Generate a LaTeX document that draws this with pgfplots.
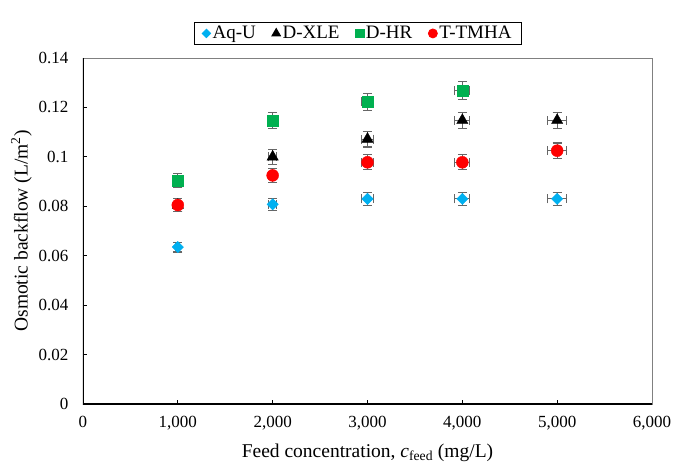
\documentclass[border=0pt]{standalone}
\usepackage{pgfplots}
\pgfplotsset{compat=1.18}
\usepackage{fontspec}
\setmainfont{Liberation Serif}
\definecolor{cAq}{HTML}{00B0F0}
\definecolor{cHR}{HTML}{00B050}
\definecolor{cTM}{HTML}{FF0000}
\definecolor{errc}{HTML}{666666}
\definecolor{boxc}{HTML}{808080}
\begin{document}
\begin{tikzpicture}
\useasboundingbox (-83pt,-60pt) rectangle (592pt,404pt);
\begin{axis}[
  width=569pt, height=346pt, scale only axis,
  xmin=0, xmax=6000, ymin=0, ymax=0.14,
  xtick={0,1000,...,6000},
  ytick={0,0.02,...,0.14},
  /pgf/number format/assume math mode=true,
  /pgf/number format/1000 sep={,},
  yticklabel style={/pgf/number format/fixed, /pgf/number format/precision=2},
  scaled y ticks=false,
  tick label style={font=\fontsize{17}{20}\selectfont},
  label style={font=\fontsize{19.5}{23}\selectfont},
  tick align=inside, tick pos=left,
  major tick length=4pt,
  tick style={black, line width=0.8pt},
  axis line style={boxc, line width=0.8pt},
  xlabel={Feed concentration, \textit{c}\textsubscript{feed} (mg/L)},
  ylabel={Osmotic backflow (L/m\textsuperscript{2})},
  xticklabel style={yshift=-9pt},
  yticklabel style={xshift=-11pt},
  xlabel style={yshift=-7pt},
  ylabel style={yshift=0pt},
  legend columns=4,
  legend style={at={(0.483,1.038)}, anchor=south, draw=black, line width=0.8pt,
    font=\fontsize{19}{22}\selectfont, inner xsep=8pt, inner ysep=2pt,
    /tikz/every even column/.append style={column sep=14pt}},
  legend cell align=left,
  error bars/error bar style={errc, line width=1.1pt},
  error bars/error mark options={rotate=90, mark size=4.5pt, errc, line width=1.1pt},
]
\draw[black, line width=1.4pt] (rel axis cs:0,1) -- (rel axis cs:0,0) -- (rel axis cs:1,0);

\addplot[only marks, mark=square*, mark size=4pt, mark options={rotate=45, cAq, fill=cAq},
  legend image post style={mark size=3pt},
  error bars/.cd, x dir=both, y dir=both, x explicit, y explicit]
coordinates {
  (1000,0.0635) +- (20,0.0020)
  (2000,0.0808) +- (40,0.0025)
  (3000,0.0830) +- (60,0.0025)
  (4000,0.0830) +- (80,0.0025)
  (5000,0.0830) +- (100,0.0025)
};
\addlegendentry{Aq-U}

\addplot[only marks, mark=triangle*, mark size=6.5pt, mark options={black, fill=black},
  legend image post style={mark size=5pt},
  error bars/.cd, x dir=both, y dir=both, x explicit, y explicit]
coordinates {
  (1000,0.0805) +- (20,0.0025)
  (2000,0.1000) +- (40,0.0030)
  (3000,0.1072) +- (60,0.0032)
  (4000,0.1148) +- (80,0.0033)
  (5000,0.1148) +- (100,0.0033)
};
\addlegendentry{D-XLE}

\addplot[only marks, mark=square*, mark size=5.5pt, mark options={cHR, fill=cHR},
  legend image post style={mark size=4.2pt},
  error bars/.cd, x dir=both, y dir=both, x explicit, y explicit]
coordinates {
  (1000,0.0905) +- (20,0.0027)
  (2000,0.1148) +- (40,0.0033)
  (3000,0.1222) +- (60,0.0035)
  (4000,0.1268) +- (80,0.0037)
};
\addlegendentry{D-HR}

\addplot[only marks, mark=*, mark size=6pt, mark options={cTM, fill=cTM},
  legend image post style={mark size=4.5pt},
  error bars/.cd, x dir=both, y dir=both, x explicit, y explicit]
coordinates {
  (1000,0.0805) +- (20,0.0025)
  (2000,0.0925) +- (40,0.0028)
  (3000,0.0978) +- (60,0.0030)
  (4000,0.0978) +- (80,0.0030)
  (5000,0.1025) +- (100,0.0031)
};
\addlegendentry{T-TMHA}
\end{axis}
\end{tikzpicture}
\end{document}
